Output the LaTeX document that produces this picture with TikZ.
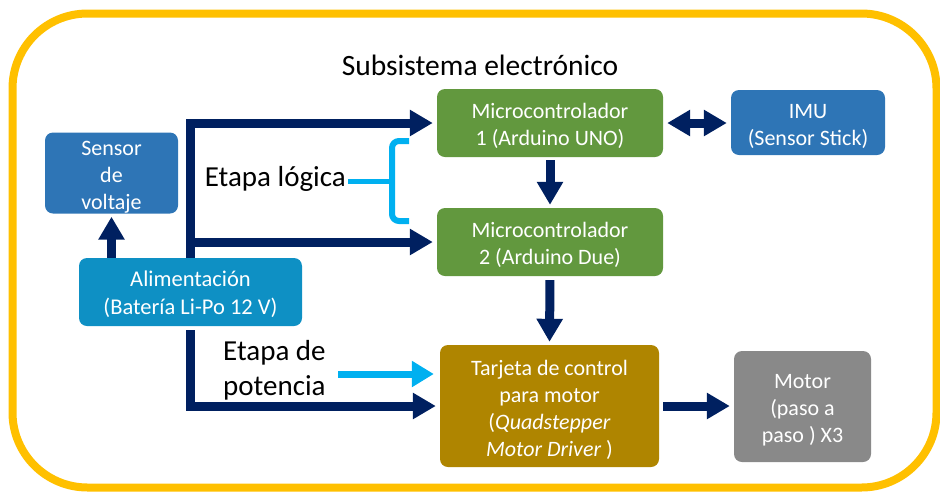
\documentclass[tikz,border=0pt]{standalone}
\usepackage{fontspec}
\setmainfont{Carlito}
\usetikzlibrary{arrows.meta}
\definecolor{navy}{RGB}{0,32,96}
\definecolor{lblue}{RGB}{0,176,240}
\definecolor{gold}{RGB}{255,192,0}
\definecolor{bblue}{RGB}{46,117,182}
\definecolor{cblue}{RGB}{14,144,196}
\definecolor{mgreen}{RGB}{98,152,62}
\definecolor{ochre}{RGB}{175,133,0}
\definecolor{mgray}{RGB}{137,137,137}
\newcommand{\tpstrut}{\rule{0pt}{22pt}}
\tikzset{
  box/.style={rounded corners=8pt, text=white, align=center, inner sep=0pt,
    font=\fontsize{22}{27}\selectfont},
  darr/.style={draw=navy, line width=9pt, -{Triangle[width=25pt,length=23pt]}},
  dboth/.style={draw=navy, line width=9pt, {Triangle[width=25pt,length=23pt]}-{Triangle[width=25pt,length=23pt]}},
  larr/.style={draw=lblue, line width=7pt, -{Triangle[width=25pt,length=22pt]}},
  bigtext/.style={font=\fontsize{29}{35}\selectfont, inner sep=0pt, text=black},
}
\begin{document}
\begin{tikzpicture}[x=1pt,y=-1pt]
\useasboundingbox (0,0) rectangle (940,491);
\draw[gold, line width=8pt, rounded corners=75pt] (12.5,13.5) rectangle (936.5,487.5);

\node[bigtext, font=\fontsize{29.5}{35}\selectfont] (title) at (480,65) {Subsistema electrónico};

\node[box, fill=bblue, minimum width=133pt, minimum height=81pt] (sens) at (111.5,173) {\tpstrut Sensor\\de\\voltaje};
\node[box, fill=cblue, minimum width=223pt, minimum height=68pt, font=\fontsize{22.5}{28}\selectfont] (alim) at (190.5,292) {\rule{0pt}{20pt}Alimentación\\(Batería Li-Po 12 V)};
\node[box, fill=mgreen, minimum width=226pt, minimum height=68pt] (m1) at (550,123) {\tpstrut Microcontrolador\\1 (Arduino UNO)};
\node[box, fill=mgreen, minimum width=226pt, minimum height=68pt] (m2) at (550,242) {\tpstrut Microcontrolador\\2 (Arduino Due)};
\node[box, fill=bblue, minimum width=154pt, minimum height=65pt] (imu) at (808,122.5) {\rule{0pt}{23pt}IMU\\(Sensor Stick)};
\node[box, fill=ochre, minimum width=219pt, minimum height=122pt] (tarj) at (549.5,406) {\rule{0pt}{23pt}Tarjeta de control\\para motor\\(\textit{Quadstepper}\\\textit{Motor Driver} )};
\node[box, fill=mgray, minimum width=137pt, minimum height=111pt] (motor) at (802.5,406.5) {\tpstrut Motor\\(paso a\\paso ) X3};

\node[bigtext, anchor=east] (elog) at (346,179) {Etapa lógica};
\node[bigtext, align=left, anchor=west] (epot) at (223,370) {Etapa de\\potencia};

% logic bracket
\coordinate (bm) at (392,181);
\draw[lblue, line width=5pt] (elog.east |- bm) ++(2,0) -- (bm);
\draw[lblue, line width=6pt, rounded corners=7pt] (409,141) -| (bm) |- (409,221);

% power arrows
\draw[darr, shorten >=3pt] (sens.south |- alim.north) -- (sens.south);
\draw[darr, shorten >=4pt] (alim.north) |- (m1.west);
\draw[darr, shorten >=4pt] ([xshift=-4.5pt]alim.north |- m2.west) -- (m2.west);
\draw[darr, shorten >=4pt, shorten <=4pt] (alim.south) |- (tarj.west);
\coordinate (lbs) at (338,374);
\draw[larr, shorten >=6pt] (lbs) -- (lbs -| tarj.west);

% signal arrows
\draw[darr, shorten >=3pt, shorten <=3pt] (m1.south) -- (m2.north);
\draw[darr, shorten >=3pt, shorten <=4pt] (m2.south) -- (tarj.north);
\draw[dboth, shorten >=4pt, shorten <=4pt] (m1.east) -- (m1.east -| imu.west);
\draw[darr, shorten >=4pt, shorten <=4pt] (tarj.east) -- (tarj.east -| motor.west);
\end{tikzpicture}
\end{document}
